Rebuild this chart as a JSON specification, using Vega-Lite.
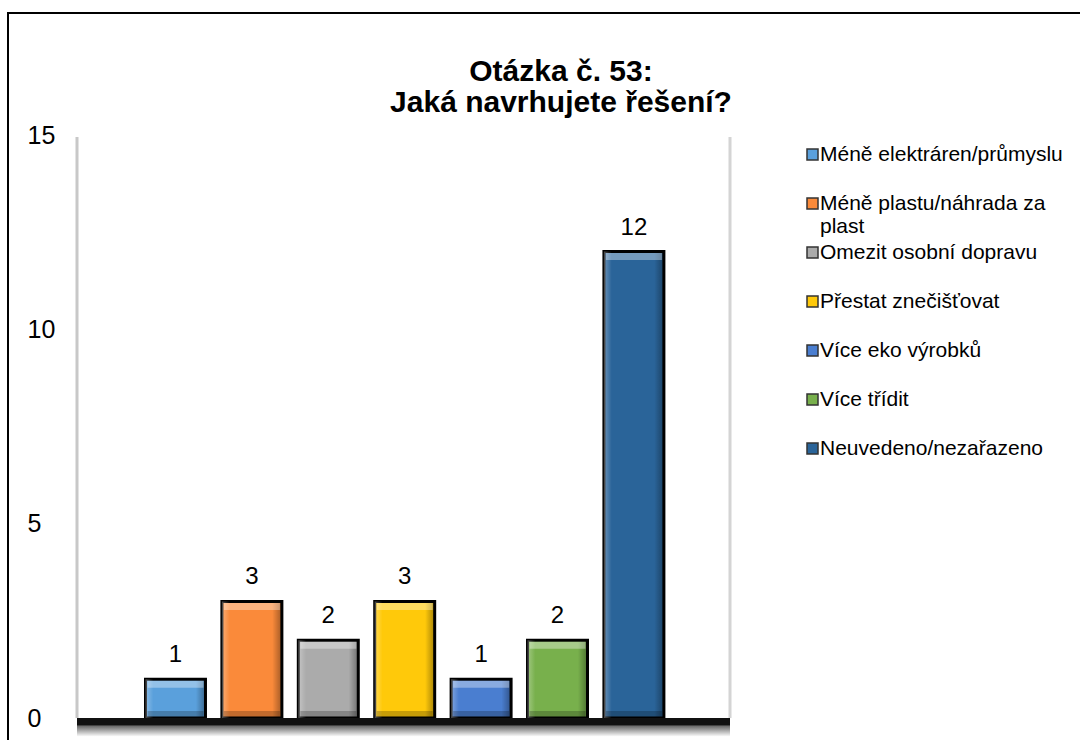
{
  "$schema": "https://vega.github.io/schema/vega-lite/v6.json",
  "autosize": "none",
  "width": 1080,
  "height": 740,
  "padding": {"left": 8, "top": 13, "right": 0, "bottom": 0},
  "background": "white",
  "config": {
    "font": "Liberation Sans",
    "view": {"stroke": "#000000", "strokeWidth": 2, "fill": "white"}
  },
  "title": {
    "text": ["Otázka č. 53:", "Jaká navrhujete řešení?"],
    "font": "Liberation Sans",
    "fontSize": 30,
    "fontWeight": "bold",
    "color": "#000000",
    "anchor": "middle",
    "frame": "group",
    "baseline": "alphabetic",
    "lineHeight": 31,
    "offset": -129,
    "dx": 13
  },
  "layer": [
    {
      "data": {
        "values": [
          {"kategorie": "Méně elektráren/průmyslu", "pocet": 1},
          {"kategorie": "Méně plastu/náhrada za plast", "pocet": 3},
          {"kategorie": "Omezit osobní dopravu", "pocet": 2},
          {"kategorie": "Přestat znečišťovat", "pocet": 3},
          {"kategorie": "Více eko výrobků", "pocet": 1},
          {"kategorie": "Více třídit", "pocet": 2},
          {"kategorie": "Neuvedeno/nezařazeno", "pocet": 12}
        ]
      },
      "encoding": {
        "x": {
          "field": "kategorie",
          "type": "nominal",
          "sort": null,
          "axis": null,
          "scale": {"range": [137.5, 655.9], "paddingInner": 0.215, "paddingOuter": 0, "round": false}
        },
        "y": {
          "field": "pocet",
          "type": "quantitative",
          "scale": {"domain": [-0.9005, 18.139], "nice": false, "zero": false},
          "axis": {
            "values": [0, 5, 10, 15],
            "grid": false,
            "domain": false,
            "ticks": false,
            "tickSize": 0,
            "labelPadding": 0,
            "offset": -19,
            "labelAlign": "left",
            "labelFont": "Liberation Sans",
            "labelFontSize": 25,
            "labelColor": "#000000",
            "title": null
          }
        }
      },
      "layer": [
        {
          "mark": {"type": "bar", "stroke": "#000000", "strokeWidth": 3},
          "encoding": {
            "y2": {"datum": 0},
            "color": {
              "field": "kategorie",
              "type": "nominal",
              "sort": null,
              "scale": {
                "domain": ["Méně elektráren/průmyslu", "Méně plastu/náhrada za plast", "Omezit osobní dopravu", "Přestat znečišťovat", "Více eko výrobků", "Více třídit", "Neuvedeno/nezařazeno"],
                "range": ["#5aa0dc", "#fa8a3a", "#ababab", "#ffc90a", "#4a7ed0", "#78b04c", "#2a6499"]
              },
              "legend": {
                "title": null,
                "orient": "none",
                "legendX": 794,
                "legendY": 131,
                "direction": "vertical",
                "gridAlign": "all",
                "rowPadding": 4,
                "padding": 0,
                "symbolType": "square",
                "symbolSize": 121,
                "symbolStrokeColor": "#333333",
                "symbolStrokeWidth": 1.5,
                "labelOffset": -3,
                "labelFont": "Liberation Sans",
                "labelFontSize": 21,
                "labelColor": "#000000",
                "labelLimit": 0,
                "labelExpr": "datum.label == 'Méně plastu/náhrada za plast' ? ['Méně plastu/náhrada za', 'plast'] : datum.label"
              }
            }
          }
        },
        {
          "mark": {
            "type": "bar",
            "color": {
              "gradient": "linear",
              "x1": 0, "y1": 0, "x2": 1, "y2": 0,
              "stops": [
                {"offset": 0, "color": "rgba(255,255,255,0.30)"},
                {"offset": 0.13, "color": "rgba(255,255,255,0)"},
                {"offset": 0.84, "color": "rgba(0,0,0,0)"},
                {"offset": 1, "color": "rgba(0,0,0,0.35)"}
              ]
            }
          },
          "encoding": {"y2": {"datum": 0}}
        },
        {
          "mark": {"type": "tick", "color": "white", "opacity": 0.35, "size": 56, "thickness": 7, "yOffset": 5},
          "encoding": {}
        },
        {
          "mark": {"type": "tick", "color": "black", "opacity": 0.22, "size": 56, "thickness": 6, "yOffset": -4},
          "encoding": {"y": {"datum": 0}}
        },
        {
          "mark": {"type": "text", "baseline": "alphabetic", "dy": -17, "font": "Liberation Sans", "fontSize": 24, "color": "#000000"},
          "encoding": {"text": {"field": "pocet", "type": "quantitative"}}
        }
      ]
    },
    {
      "data": {"values": [{"oblast": "graf"}]},
      "encoding": {
        "x": {
          "field": "oblast",
          "type": "nominal",
          "axis": null,
          "scale": {"range": [69, 722], "paddingInner": 0, "paddingOuter": 0, "round": false}
        }
      },
      "layer": [
        {
          "mark": {"type": "rule", "stroke": "#c8c8c8", "strokeWidth": 3},
          "encoding": {
            "x": {"field": "oblast", "type": "nominal", "bandPosition": 0, "axis": null},
            "y": {"datum": 0},
            "y2": {"datum": 14.95}
          }
        },
        {
          "mark": {"type": "rule", "stroke": "#d4d4d4", "strokeWidth": 3},
          "encoding": {
            "x": {"field": "oblast", "type": "nominal", "bandPosition": 1, "axis": null},
            "y": {"datum": 0},
            "y2": {"datum": 14.95}
          }
        },
        {
          "mark": {
            "type": "bar",
            "color": {
              "gradient": "linear",
              "x1": 0, "y1": 0, "x2": 0, "y2": 1,
              "stops": [
                {"offset": 0, "color": "rgba(0,0,0,0.6)"},
                {"offset": 1, "color": "rgba(0,0,0,0)"}
              ]
            }
          },
          "encoding": {"y": {"datum": -0.2}, "y2": {"datum": -0.48}}
        },
        {
          "mark": {"type": "bar", "color": "#111111"},
          "encoding": {"y": {"datum": 0}, "y2": {"datum": -0.2}}
        }
      ]
    }
  ],
  "resolve": {"scale": {"x": "independent"}}
}
